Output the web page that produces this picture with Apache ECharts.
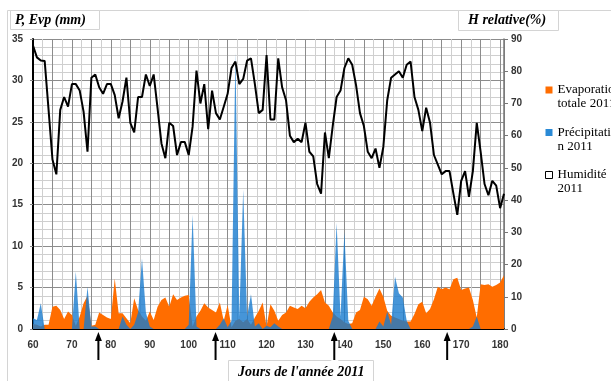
<!DOCTYPE html>
<html>
<head>
<meta charset="utf-8">
<script src="https://cdn.jsdelivr.net/npm/echarts@6/dist/echarts.min.js"></script>
<style>
html,body{margin:0;padding:0;background:#fff;}
#main{width:611px;height:381px;}
</style>
</head>
<body>
<div id="main"></div>
<script>
// Day of year for the first value of each series (1 March 2011 = day 60)
const startDay = 60;

// Relative humidity (%), one value per day 60..181
const humidity = [
  88, 84.3, 83.3, 83.2, 68, 52.6, 48, 68, 72, 69,
  76, 76, 74, 67.4, 55, 78, 79, 75, 73, 76,
  76, 72.6, 65.4, 70.6, 78, 64, 61, 72, 72, 79,
  75.4, 79, 68.5, 57.6, 53, 64, 63, 54, 58, 58,
  54, 62.8, 80.2, 70, 76, 62, 74, 67, 65, 69,
  73, 81, 83, 76, 77.6, 83.3, 84, 76, 67, 68,
  85, 65, 65, 84, 75, 71, 60, 58, 59, 58,
  64, 55, 53.6, 45, 42, 61, 53, 63, 72, 74,
  81, 84, 82, 75.6, 67, 63, 55, 53, 56, 50,
  56.5, 71, 78, 79, 80, 78, 82, 83, 72, 68,
  61.4, 68.7, 64, 54, 51, 48, 49, 49, 42, 35.4,
  46, 49, 41, 49, 64, 55, 45, 41.5, 46, 44.5,
  37.5, 42
];

// Total evaporation (mm), days 60..181
const evaporation = [
  0.6, 0.5, 0.3, 0.5, 0.5, 2.7, 2.8, 2.3, 1.2, 2.1,
  1.7, 0.4, 1.5, 3.1, 4.0, 0.4, 0.5, 2.0, 1.7, 1.4,
  1.2, 6.1, 1.9, 1.9, 1.3, 0.7, 3.7, 2.3, 1.5, 1.0,
  2.1, 1.1, 2.7, 3.5, 3.8, 2.7, 4.2, 3.5, 3.8, 4.0,
  4.1, 0.3, 1.5, 2.2, 3.1, 2.6, 2.3, 2.0, 3.2, 1.0,
  2.9, 0.2, 1.0, 1.2, 0.8, 1.2, 0.5, 1.4, 2.2, 3.2,
  0.3, 3.0, 2.2, 1.0, 1.7, 2.0, 2.8, 2.6, 2.4, 2.8,
  2.5, 3.3, 3.8, 4.2, 4.7, 3.2, 2.8, 2.0, 1.5, 1.2,
  0.8, 0.6, 0.7, 2.0, 2.3, 3.9, 3.6, 2.8, 3.9, 4.9,
  3.9, 2.2, 1.6, 1.4, 1.2, 1.0, 0.9, 0.9, 1.8, 3.0,
  3.3, 1.9, 2.4, 3.6, 5.1, 4.8, 5.0, 4.8, 6.0, 6.2,
  4.7, 4.9, 5.0, 3.5, 1.4, 5.4, 5.3, 5.4, 5.1, 5.3,
  5.6, 6.5
];

// Precipitation (mm), days 60..181
const precipitation = [
  1.3, 1.1, 3.1, 0, 0, 0, 0, 0, 0, 0,
  0, 6.9, 0, 0, 5.1, 0.3, 0.3, 0, 0, 0,
  0, 0, 0, 1.5, 0.5, 0, 0.5, 2.0, 8.5, 2.0,
  0.3, 0, 0, 0, 0, 0, 0, 0, 0, 0,
  0.5, 13.8, 0.3, 0, 0, 0, 0, 0, 0.5, 1.3,
  0.2, 1.0, 33.3, 1.5, 16.8, 1.5, 4.2, 0.3, 0.7, 0,
  0.4, 0.2, 0.7, 0.3, 0, 0, 0, 0, 0, 0,
  0, 0, 0, 0, 0, 0, 0, 1.5, 12.8, 1.5,
  11.7, 1.0, 0, 0, 0, 0, 0, 0, 0, 0.9,
  0.3, 2.1, 0.5, 6.3, 4.3, 3.8, 1.0, 0, 0, 0,
  0, 0, 0, 0, 0, 0, 0, 0, 0, 0,
  0, 0, 0, 0.3, 1.5, 0, 0, 0, 0, 0,
  0, 0
];

// Days marked with arrows under the axis
const arrowDays = [76.8, 106.9, 137.4, 166.4];

const seriesNames = ['Evaporation totale 2011', 'Précipitation 2011', 'Humidité 2011'];
const legendLabels = {
  'Evaporation totale 2011': '\nEvaporation\ntotale 2011',
  'Précipitation 2011': '\nPrécipitatio\nn 2011',
  'Humidité 2011': '\nHumidité\n2011'
};
const titles = ['P, Evp (mm)', 'H relative(%)', "Jours de l'année 2011"];

function pairs(arr) { return arr.map((v, i) => [startDay + i, v]); }

const chart = echarts.init(document.getElementById('main'), null, {renderer: 'canvas'});

const axisLabelStyle = {fontFamily: 'Liberation Sans', fontWeight: 'bold', fontSize: 10, color: '#333'};
const titleText = {fontFamily: 'Liberation Serif', fontStyle: 'italic', fontWeight: 'bold', fontSize: 14, color: '#000'};

chart.setOption({
  animation: false,
  backgroundColor: '#fff',
  title: [
    {text: titles[0], left: 10, top: 10, padding: [3, 14, 3, 5], borderColor: '#d4d4d4', borderWidth: 1, backgroundColor: '#fff', textStyle: titleText},
    {text: titles[1], left: 458, top: 10, padding: [3, 13, 4, 10], borderColor: '#d4d4d4', borderWidth: 1, backgroundColor: '#fff', textStyle: titleText},
    {text: titles[2], left: 228, top: 360, padding: [5, 9, 12, 10], borderColor: '#d4d4d4', borderWidth: 1, backgroundColor: '#fff', textStyle: titleText}
  ],
  legend: {
    orient: 'vertical',
    left: 545,
    top: 69,
    padding: 0,
    itemGap: 0.5,
    itemWidth: 7,
    itemHeight: 7,
    selectedMode: false,
    formatter: name => legendLabels[name],
    textStyle: {fontFamily: 'Liberation Serif', fontSize: 13, lineHeight: 14, color: '#000'},
    data: [
      {name: seriesNames[0], icon: 'rect', itemStyle: {color: '#ff6d00', borderWidth: 0}},
      {name: seriesNames[1], icon: 'rect', itemStyle: {color: '#2a8ad6', borderWidth: 0}},
      {name: seriesNames[2], icon: 'rect', itemStyle: {color: '#fff', borderColor: '#000', borderWidth: 1}}
    ]
  },
  grid: {left: 33, right: 107, top: 39, bottom: 52, containLabel: false},
  xAxis: {
    type: 'value', min: 60, max: 181, interval: 5,
    axisLine: {show: true, onZero: false, lineStyle: {color: '#000', width: 2}},
    axisTick: {show: false},
    axisLabel: Object.assign({margin: 11, formatter: v => (v % 10 === 0 ? String(v) : '')}, axisLabelStyle),
    splitLine: {show: true, lineStyle: {color: '#8c8c8c', width: 1}},
    minorTick: {show: false, splitNumber: 2},
    minorSplitLine: {show: true, lineStyle: {color: '#cfcfcf', width: 1}}
  },
  yAxis: [
    {
      type: 'value', min: 0, max: 35, interval: 5,
      axisLine: {show: true, lineStyle: {color: '#000', width: 2}},
      axisTick: {show: true, length: 3, lineStyle: {color: '#888'}},
      axisLabel: Object.assign({margin: 10}, axisLabelStyle),
      splitLine: {show: true, lineStyle: {color: '#8c8c8c', width: 1}},
      minorTick: {show: false, splitNumber: 5},
      minorSplitLine: {show: true, lineStyle: {color: '#cfcfcf', width: 1}}
    },
    {
      type: 'value', min: 0, max: 90, interval: 10, position: 'right',
      axisLine: {show: true, lineStyle: {color: '#777', width: 1.5}},
      axisTick: {show: true, length: 4, lineStyle: {color: '#777'}},
      axisLabel: Object.assign({margin: 7}, axisLabelStyle),
      splitLine: {show: false}
    }
  ],
  series: [
    {
      name: seriesNames[0], type: 'line', data: pairs(evaporation),
      symbol: 'none', lineStyle: {width: 0}, itemStyle: {color: '#ff6d00'},
      areaStyle: {color: '#ff6d00', opacity: 1}, z: 2
    },
    {
      name: seriesNames[1], type: 'line', data: pairs(precipitation),
      symbol: 'none', lineStyle: {width: 0}, itemStyle: {color: '#2a8ad6'},
      areaStyle: {color: 'rgba(24,122,206,0.8)', opacity: 1}, z: 3
    },
    {
      name: seriesNames[2], type: 'line', yAxisIndex: 1, data: pairs(humidity),
      symbol: 'none', lineStyle: {color: '#000', width: 2}, itemStyle: {color: '#000'}, z: 4
    }
  ]
});

const graphics = [{
  type: 'rect', z: -10, silent: true,
  shape: {x: 7.5, y: 10.5, width: 640, height: 420},
  style: {fill: 'none', stroke: '#d4d4d4', lineWidth: 1}
}];
arrowDays.forEach(d => {
  const px = chart.convertToPixel({xAxisIndex: 0}, d);
  graphics.push({
    type: 'rect', z: 100, silent: true,
    shape: {x: px - 3, y: 336, width: 7, height: 26},
    style: {fill: '#fff'}
  });
  graphics.push({
    type: 'line', z: 101, silent: true,
    shape: {x1: px, y1: 338, x2: px, y2: 360},
    style: {stroke: '#000', lineWidth: 2}
  });
  graphics.push({
    type: 'polygon', z: 101, silent: true,
    shape: {points: [[px, 332], [px - 3.5, 341], [px + 3.5, 341]]},
    style: {fill: '#000'}
  });
});
chart.setOption({graphic: graphics});
</script>
</body>
</html>
